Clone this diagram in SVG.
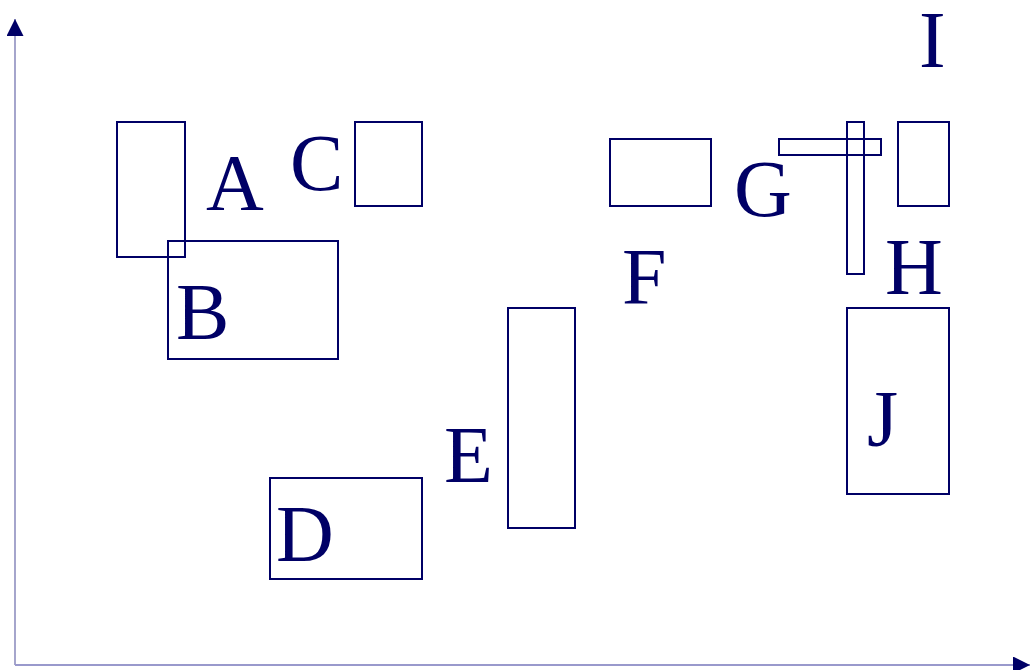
<svg xmlns="http://www.w3.org/2000/svg" width="1030" height="670" viewBox="0 0 1030 670">
<style>
.box{fill:none;stroke:#000066;stroke-width:2}
.lbl{font-family:"Liberation Serif",serif;font-size:80px;fill:#000066}
</style>
<defs>
<marker id="ah" viewBox="0 0 17 17" refX="17" refY="8.5" markerWidth="17" markerHeight="17" markerUnits="userSpaceOnUse" orient="auto">
<path d="M0,0 L17,8.5 L0,17 z" fill="#000066"/>
</marker>
</defs>
<g id="connectors">
<line x1="15" y1="665" x2="15" y2="19" stroke="#6a6aaa" stroke-width="1.2" marker-end="url(#ah)"/>
<line x1="15" y1="665" x2="1030" y2="665" stroke="#9999cc" stroke-width="2" marker-end="url(#ah)"/>
</g>
<g id="A"><rect class="box" x="117" y="122" width="68" height="135"/><text class="lbl" x="206" y="210">A</text></g>
<g id="B"><rect class="box" x="168" y="241" width="170" height="118"/><text class="lbl" x="176" y="339">B</text></g>
<g id="C"><rect class="box" x="355" y="122" width="67" height="84"/><text class="lbl" x="290" y="190">C</text></g>
<g id="D"><rect class="box" x="270" y="478" width="152" height="101"/><text class="lbl" x="276" y="561">D</text></g>
<g id="E"><rect class="box" x="508" y="308" width="67" height="220"/><text class="lbl" x="444" y="482">E</text></g>
<g id="F"><rect class="box" x="610" y="139" width="101" height="67"/><text class="lbl" x="622" y="304">F</text></g>
<g id="G"><rect class="box" x="779" y="139" width="102" height="16"/><text class="lbl" x="734" y="216">G</text></g>
<g id="H"><rect class="box" x="847" y="122" width="17" height="152"/><text class="lbl" x="885" y="294">H</text></g>
<g id="I"><rect class="box" x="898" y="122" width="51" height="84"/><text class="lbl" x="919" y="67">I</text></g>
<g id="J"><rect class="box" x="847" y="308" width="102" height="186"/><text class="lbl" x="867" y="446">J</text></g>
</svg>
